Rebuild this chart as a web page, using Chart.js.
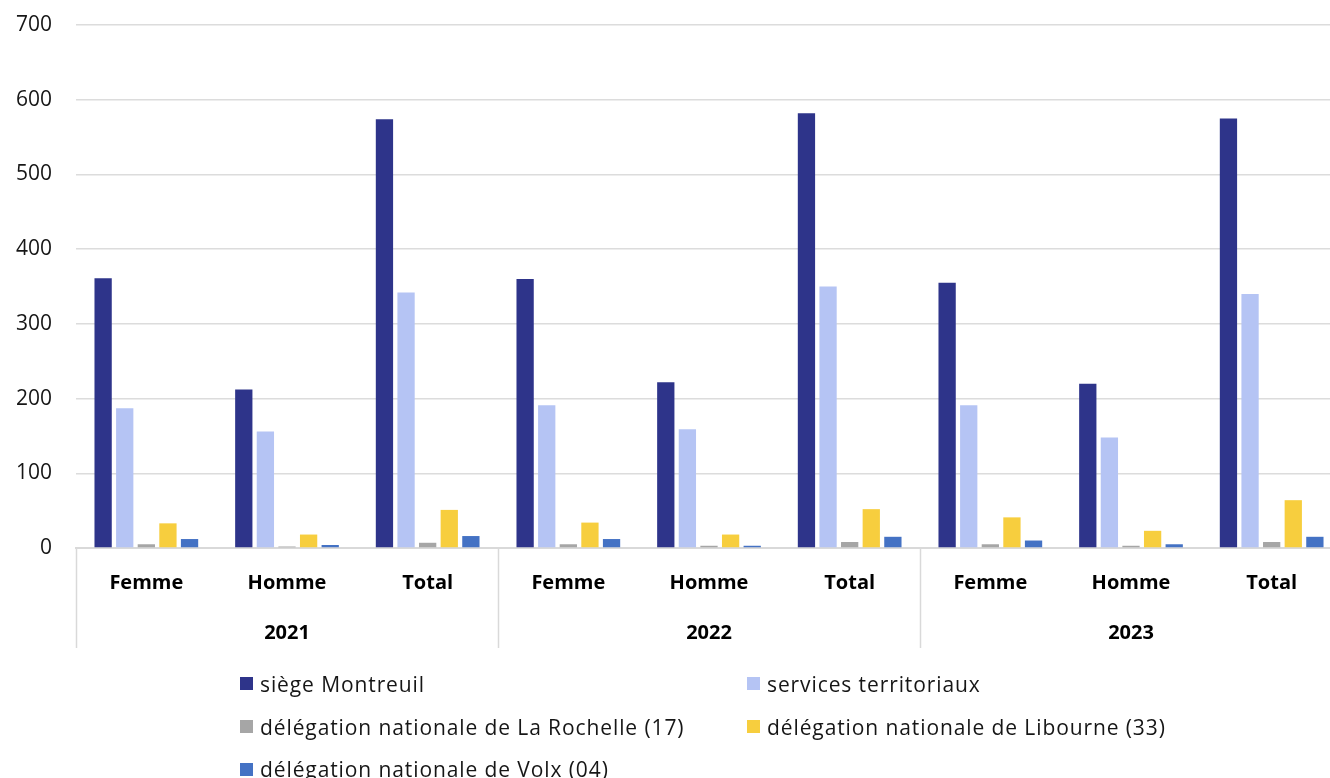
<!DOCTYPE html>
<html lang="fr">
<head>
<meta charset="utf-8">
<script src="https://cdn.jsdelivr.net/npm/chart.js@4.4.1/dist/chart.umd.min.js"></script>
<style>
  html, body { margin: 0; padding: 0; background: #fff; overflow: hidden; }
  body { width: 1330px; height: 778px; position: relative; font-family: "Open Sans", sans-serif; }
  .effectifs__chart { position: absolute; left: 0; top: 0; width: 1345px; height: 654px; }
  .effectifs__legend { position: absolute; left: 0; top: 0; width: 1330px; height: 778px; pointer-events: none; }
  .effectifs__item { position: absolute; display: flex; align-items: center; height: 26px; font-size: 21px; color: #161616; white-space: nowrap; letter-spacing: 0.9px; }
  .effectifs__item i { display: inline-block; width: 13px; height: 13px; margin-right: 7px; }
</style>
</head>
<body>
<div class="effectifs__chart"><canvas id="effectifsChart"></canvas></div>
<div class="effectifs__legend" id="effectifsLegend"></div>
<script>
(function () {
  const years = ["2021", "2022", "2023"];
  const genres = ["Femme", "Homme", "Total"];
  const categories = years.flatMap(() => genres);
  const yTicks = [0, 100, 200, 300, 400, 500, 600, 700];

  // une valeur par catégorie : Femme/Homme/Total pour 2021, 2022, 2023
  const siegeMontreuil = [361, 212, 574, 360, 222, 582, 355, 220, 575];
  const servicesTerritoriaux = [187, 156, 342, 191, 159, 350, 191, 148, 340];
  const laRochelle = [5, 2, 7, 5, 3, 8, 5, 3, 8];
  const libourne = [33, 18, 51, 34, 18, 52, 41, 23, 64];
  const volx = [12, 4, 16, 12, 3, 15, 10, 5, 15];

  const series = [
    { label: "siège Montreuil", data: siegeMontreuil, color: "#2e348a" },
    { label: "services territoriaux", data: servicesTerritoriaux, color: "#b5c4f4" },
    { label: "délégation nationale de La Rochelle (17)", data: laRochelle, color: "#a6a6a6" },
    { label: "délégation nationale de Libourne (33)", data: libourne, color: "#f7ce3e" },
    { label: "délégation nationale de Volx (04)", data: volx, color: "#4472c4" }
  ];

  const font = "'Open Sans', sans-serif";

  // traits verticaux entre les années, sous l'axe
  const yearSeparators = {
    id: "yearSeparators",
    afterDraw(chart) {
      const x2 = chart.scales.x2;
      const ctx = chart.ctx;
      const step = x2.width / years.length;
      ctx.save();
      ctx.strokeStyle = "#d9d9d9";
      ctx.lineWidth = 1.5;
      for (let i = 0; i <= years.length; i++) {
        const x = Math.round(x2.left + i * step) + 0.5;
        ctx.beginPath();
        ctx.moveTo(x, chart.chartArea.bottom);
        ctx.lineTo(x, x2.bottom - 6);
        ctx.stroke();
      }
      ctx.restore();
    }
  };

  const chart = new Chart(document.getElementById("effectifsChart"), {
    type: "bar",
    data: {
      labels: categories,
      datasets: series.map((s) => ({
        label: s.label,
        data: s.data,
        backgroundColor: s.color,
        borderWidth: 0,
        categoryPercentage: 0.768,
        barPercentage: 0.8
      }))
    },
    options: {
      responsive: true,
      maintainAspectRatio: false,
      animation: false,
      layout: { padding: { top: 25, right: 3, left: 0, bottom: 0 } },
      plugins: {
        legend: { display: false },
        tooltip: { enabled: false }
      },
      scales: {
        x: {
          type: "category",
          position: "bottom",
          weight: 0,
          grid: { display: false },
          border: { display: true, color: "#d9d9d9", width: 2 },
          ticks: { color: "#000", font: { family: font, size: 20, weight: "bold" }, padding: 15, maxRotation: 0, autoSkip: false },
          afterFit: (scale) => { scale.height = 58; }
        },
        x2: {
          type: "category",
          position: "bottom",
          weight: 1,
          labels: years,
          offset: true,
          grid: { display: false },
          border: { display: false },
          ticks: { color: "#000", font: { family: font, size: 20, weight: "bold" }, padding: 7, maxRotation: 0 },
          afterFit: (scale) => { scale.height = 48; }
        },
        y: {
          min: 0,
          max: 700,
          afterBuildTicks: (scale) => { scale.ticks = yTicks.map((v) => ({ value: v })); },
          grid: { color: "#dcdcdc", lineWidth: 1.5, drawTicks: false },
          border: { display: false },
          ticks: { color: "#161616", font: { family: font, size: 21 }, padding: 24 },
          afterFit: (scale) => {
            scale.width = 76;
            scale.paddingTop = 0;
            scale.paddingBottom = 0;
          }
        }
      }
    },
    plugins: [yearSeparators]
  });

  // légende sur deux colonnes, comme dans l'original
  const legend = document.getElementById("effectifsLegend");
  const columns = [240, 747];
  const rows = [683.5, 726.5, 769];
  series.forEach((s, index) => {
    const item = document.createElement("div");
    item.className = "effectifs__item";
    item.style.left = `${columns[index % 2]}px`;
    item.style.top = `${rows[Math.floor(index / 2)] - 13}px`;
    item.innerHTML = `<i style="background:${s.color}"></i><span>${s.label}</span>`;
    legend.appendChild(item);
  });
  chart.update();
}());
</script>
</body>
</html>
